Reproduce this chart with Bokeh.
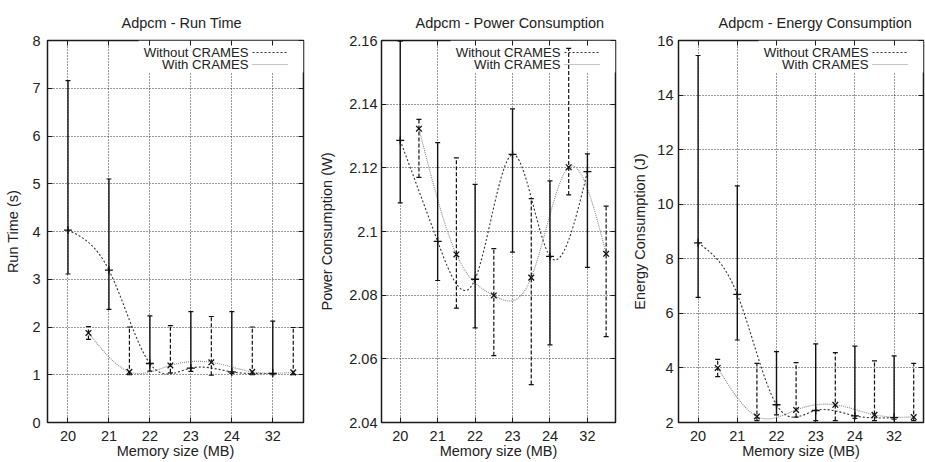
import numpy as np
from bokeh.plotting import figure
from bokeh.layouts import row
from bokeh.models import (ColumnDataSource, Whisker, TeeHead, FixedTicker, LinearAxis,
                          BoxAnnotation, Label, Range1d, NumeralTickFormatter)
from bokeh.embed import file_html
from bokeh.resources import INLINE

# ---------------- data ----------------
x_labels = ["20", "21", "22", "23", "24", "32"]

# Run time (s)
rt_wo_mean = [4.03, 3.19, 1.236, 1.14, 1.06, 1.03]
rt_wo_low = [3.11, 2.37, 1.076, 1.07, 1.03, 1.00]
rt_wo_high = [7.16, 5.10, 2.235, 2.32, 2.32, 2.125]
rt_w_mean = [1.875, 1.06, 1.194, 1.26, 1.06, 1.05]
rt_w_low = [1.74, 1.00, 1.04, 0.99, 1.00, 1.00]
rt_w_high = [2.01, 2.00, 2.03, 2.22, 2.00, 1.99]

# Power consumption (W)
pw_wo_mean = [2.1286, 2.0969, 2.0850, 2.1242, 2.0922, 2.1188]
pw_wo_low = [2.1090, 2.0846, 2.0697, 2.0935, 2.0644, 2.0887]
pw_wo_high = [2.1598, 2.1279, 2.1148, 2.1385, 2.1159, 2.1244]
pw_w_mean = [2.1323, 2.0928, 2.0799, 2.0855, 2.1202, 2.0930]
pw_w_low = [2.1170, 2.0759, 2.0610, 2.0519, 2.1115, 2.0670]
pw_w_high = [2.1352, 2.1231, 2.0946, 2.1103, 2.1575, 2.1080]

# Energy consumption (J)
en_wo_mean = [8.585, 6.695, 2.65, 2.44, 2.245, 2.18]
en_wo_low = [6.585, 5.024, 2.28, 2.07, 2.15, 2.12]
en_wo_high = [15.45, 10.67, 4.60, 4.88, 4.80, 4.44]
en_w_mean = [4.00, 2.22, 2.46, 2.65, 2.28, 2.20]
en_w_low = [3.68, 2.07, 2.195, 2.07, 2.07, 2.07]
en_w_high = [4.317, 4.17, 4.195, 4.56, 4.256, 4.17]

FONT = "Liberation Sans"
TXT = "#222222"
X0, X1 = -0.5, 5.75
HEIGHT = 462
TOP, BOTTOM = 40, 40
FRAME_H = HEIGHT - TOP - BOTTOM


def spline_bezier(xs, ys):
    """Natural cubic spline (gnuplot 'smooth csplines') expressed as Bezier segments."""
    xs = np.asarray(xs, float)
    ys = np.asarray(ys, float)
    n = len(xs)
    h = np.diff(xs)
    A = np.zeros((n, n))
    b = np.zeros(n)
    A[0, 0] = 1
    A[-1, -1] = 1
    for i in range(1, n - 1):
        A[i, i - 1] = h[i - 1]
        A[i, i] = 2 * (h[i - 1] + h[i])
        A[i, i + 1] = h[i]
        b[i] = 6 * ((ys[i + 1] - ys[i]) / h[i] - (ys[i] - ys[i - 1]) / h[i - 1])
    M = np.linalg.solve(A, b)
    d = np.zeros(n)
    for i in range(n - 1):
        d[i] = (ys[i + 1] - ys[i]) / h[i] - h[i] * (2 * M[i] + M[i + 1]) / 6
    d[-1] = (ys[-1] - ys[-2]) / h[-1] + h[-1] * (M[-2] + 2 * M[-1]) / 6
    return dict(x0=xs[:-1], y0=ys[:-1], x1=xs[1:], y1=ys[1:],
                cx0=xs[:-1] + h / 3, cy0=ys[:-1] + d[:-1] * h / 3,
                cx1=xs[1:] - h / 3, cy1=ys[1:] - d[1:] * h / 3)


def make_panel(title, ylabel, yr, yticks, yfmt, wo_mean, wo_low, wo_high,
               w_mean, w_low, w_high, width, left, right, ylab_standoff, ytick_standoff,
               title_offset):
    frame_w = width - left - right
    p = figure(width=width, height=HEIGHT, output_backend="svg", toolbar_location=None,
               x_range=Range1d(X0, X1), y_range=Range1d(*yr),
               min_border_left=left, min_border_right=right,
               min_border_top=TOP, min_border_bottom=BOTTOM)
    p.background_fill_color = "white"
    p.border_fill_color = "white"
    p.outline_line_color = "#1a1a1a"
    p.outline_line_width = 1.5

    p.title.text = title
    p.title.align = "left"
    p.title.offset = title_offset
    p.title.text_font = FONT
    p.title.text_font_size = "14.5px"
    p.title.text_font_style = "normal"
    p.title.text_color = TXT
    p.title.standoff = 19

    xt = FixedTicker(ticks=list(range(len(x_labels))))
    yt = FixedTicker(ticks=yticks)

    p.xaxis.ticker = xt
    p.xaxis.major_label_overrides = {i: lab for i, lab in enumerate(x_labels)}
    p.xaxis.axis_label = "Memory size (MB)"
    p.xaxis.major_label_standoff = 8
    p.xaxis.axis_label_standoff = -1
    p.yaxis.ticker = yt
    p.yaxis.formatter = NumeralTickFormatter(format=yfmt)
    p.yaxis.axis_label = ylabel
    p.yaxis.axis_label_standoff = ylab_standoff
    p.yaxis.major_label_standoff = ytick_standoff
    for ax in (p.xaxis[0], p.yaxis[0]):
        ax.major_tick_in = 5
        ax.major_tick_out = 0
        ax.minor_tick_line_color = None
        ax.axis_line_color = None
        ax.major_tick_line_color = "#1a1a1a"
        ax.major_label_text_font = FONT
        ax.major_label_text_font_size = "14.5px"
        ax.major_label_text_color = TXT
        ax.axis_label_text_font = FONT
        ax.axis_label_text_font_size = "14.5px"
        ax.axis_label_text_font_style = "normal"
        ax.axis_label_text_color = TXT

    # mirrored ticks (top, right) without labels
    for side, tk in (("above", xt), ("right", yt)):
        ax = LinearAxis(ticker=tk, major_tick_in=5, major_tick_out=0,
                        minor_tick_line_color=None, axis_line_color=None,
                        major_tick_line_color="#1a1a1a",
                        major_label_text_font_size="1px", major_label_text_color=None,
                        major_label_standoff=0)
        p.add_layout(ax, side)

    for g in (p.xgrid[0], p.ygrid[0]):
        g.grid_line_color = "#333333"
        g.grid_line_dash = "1 2"
        g.grid_line_width = 1
    p.xgrid.ticker = xt
    p.ygrid.ticker = yt

    # helpers converting pixel offsets inside the frame to data units (layout only)
    def xd(px):
        return X0 + px / frame_w * (X1 - X0)

    def yd(px):
        return yr[1] - px / FRAME_H * (yr[1] - yr[0])

    # opaque key box hiding the grid
    p.add_layout(BoxAnnotation(left=xd(frame_w - 165), right=X1, top=yr[1], bottom=yd(32),
                               fill_color="white", fill_alpha=1.0, line_color=None,
                               level="underlay"))

    xpos = np.arange(len(x_labels), dtype=float)
    xpos_w = xpos + 0.5

    # smoothed curves
    bw = spline_bezier(xpos, wo_mean)
    p.bezier(source=ColumnDataSource(bw), x0="x0", y0="y0", x1="x1", y1="y1",
             cx0="cx0", cy0="cy0", cx1="cx1", cy1="cy1",
             line_color="#333333", line_width=1.1, line_dash="2 2")
    bwi = spline_bezier(xpos_w, w_mean)
    p.bezier(source=ColumnDataSource(bwi), x0="x0", y0="y0", x1="x1", y1="y1",
             cx0="cx0", cy0="cy0", cx1="cx1", cy1="cy1",
             line_color="#8a8a8a", line_width=1.1, line_dash="1 1")

    # error bars
    s_wo = ColumnDataSource(dict(x=xpos, m=wo_mean, lo=wo_low, hi=wo_high))
    s_w = ColumnDataSource(dict(x=xpos_w, m=w_mean, lo=w_low, hi=w_high))
    p.add_layout(Whisker(source=s_wo, base="x", lower="lo", upper="hi", dimension="height",
                         line_color="#111111", line_width=1.4, level="glyph",
                         upper_head=TeeHead(size=5, line_color="#111111", line_width=1.2),
                         lower_head=TeeHead(size=5, line_color="#111111", line_width=1.2)))
    p.add_layout(Whisker(source=s_w, base="x", lower="lo", upper="hi", dimension="height",
                         line_color="#111111", line_width=1.2, line_dash="4 2", level="glyph",
                         upper_head=TeeHead(size=5, line_color="#111111", line_width=1.2),
                         lower_head=TeeHead(size=5, line_color="#111111", line_width=1.2)))
    p.scatter(x="x", y="m", source=s_wo, marker="cross", size=8,
              line_color="#111111", line_width=1.3)
    p.scatter(x="x", y="m", source=s_w, marker="x", size=8,
              line_color="#111111", line_width=1.3)

    # key
    for k, (txt, col, dash) in enumerate((("Without CRAMES", "#333333", "2 2"),
                                          ("With CRAMES", "#8a8a8a", "1 1"))):
        yy = yd(12 + 12 * k)
        p.add_layout(Label(x=xd(frame_w - 55), y=yy, text=txt, text_align="right",
                           text_baseline="middle", text_font=FONT, text_font_size="13.2px",
                           text_color=TXT))
        p.line(x=[xd(frame_w - 51), xd(frame_w - 16)], y=[yy, yy],
               line_color=col, line_width=1.1, line_dash=dash)
    return p


p1 = make_panel("Adpcm - Run Time", "Run Time (s)", (0, 8), list(range(0, 9)), "0",
                rt_wo_mean, rt_wo_low, rt_wo_high, rt_w_mean, rt_w_low, rt_w_high,
                width=310, left=47, right=7, ylab_standoff=8, ytick_standoff=7,
                title_offset=74)
p2 = make_panel("Adpcm - Power Consumption", "Power Consumption (W)", (2.04, 2.16),
                [2.04, 2.06, 2.08, 2.10, 2.12, 2.14, 2.16], "0.0[0]",
                pw_wo_mean, pw_wo_low, pw_wo_high, pw_w_mean, pw_w_low, pw_w_high,
                width=310, left=71, right=5, ylab_standoff=11, ytick_standoff=4,
                title_offset=34)
p3 = make_panel("Adpcm - Energy Consumption", "Energy Consumption (J)", (2, 16),
                list(range(2, 17, 2)), "0",
                en_wo_mean, en_wo_low, en_wo_high, en_w_mean, en_w_low, en_w_high,
                width=305, left=58, right=2, ylab_standoff=6, ytick_standoff=5,
                title_offset=40)

layout = row(p1, p2, p3, spacing=0)
open("out.html", "w").write(file_html(layout, INLINE))
